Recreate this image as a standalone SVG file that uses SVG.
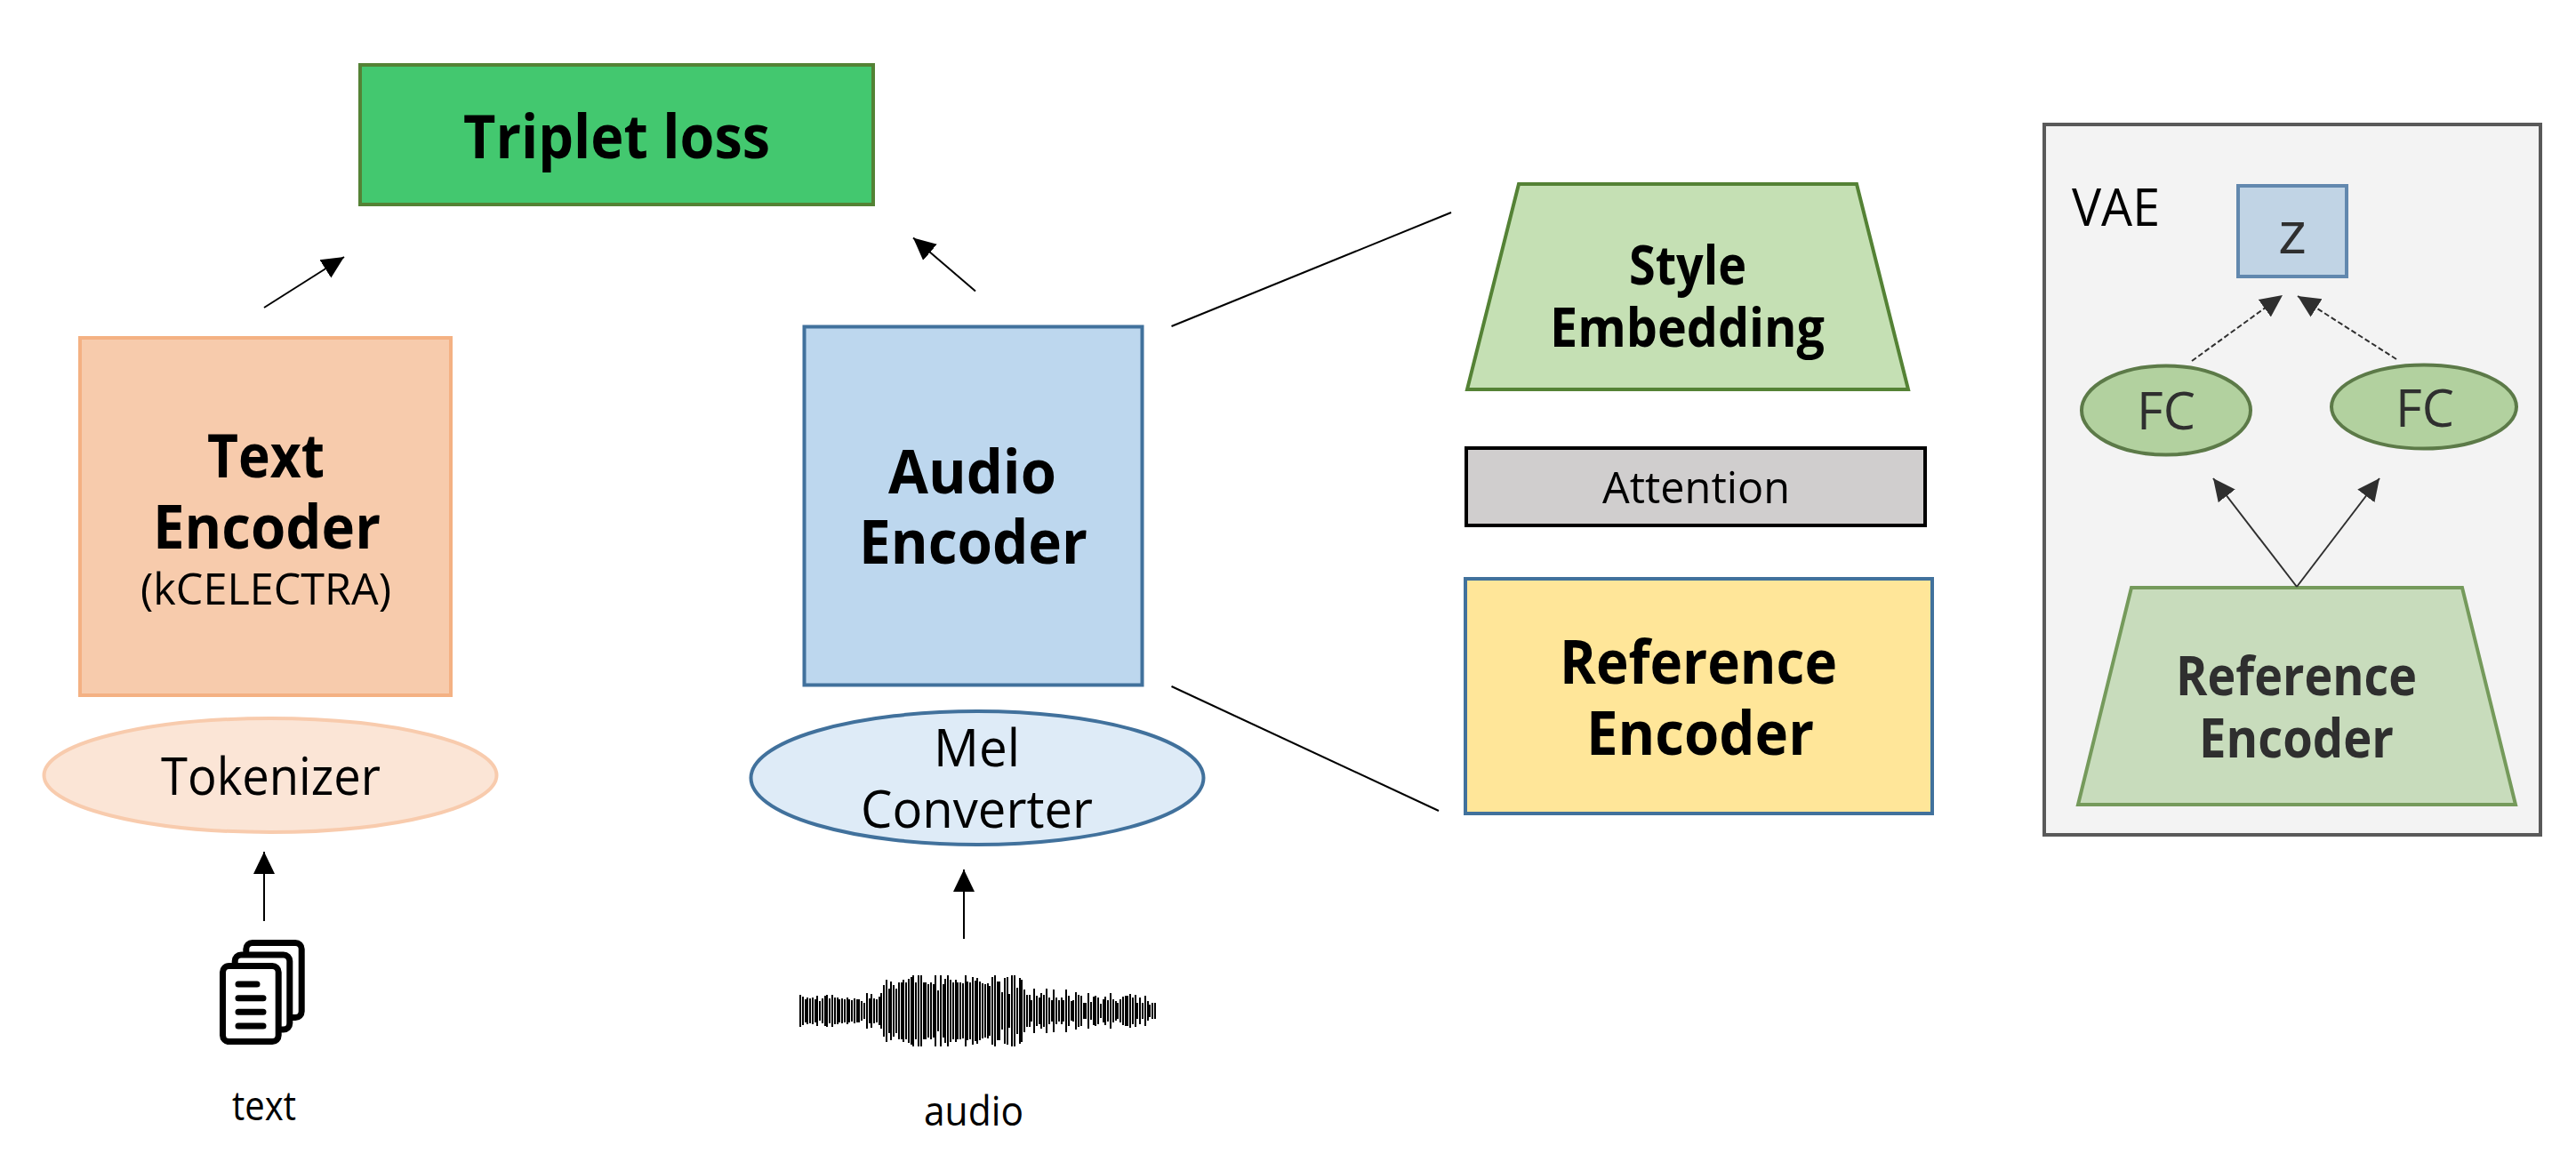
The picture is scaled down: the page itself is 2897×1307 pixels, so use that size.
<svg xmlns="http://www.w3.org/2000/svg" width="2897" height="1307" viewBox="0 0 2897 1307">
<style>
text{font-family:"Open Sans","Noto Sans","Liberation Sans",sans-serif;fill:#000}
.b{font-weight:700}
.d{fill:#2f2f2f}
.a{stroke:#000;stroke-width:2;fill:none}
.p{stroke:#2f2f2f;stroke-width:2;fill:none}
.pd{stroke:#2f2f2f;stroke-width:2;stroke-dasharray:6 3;fill:none}
.ic{fill:none;stroke:#000;stroke-width:7;stroke-linecap:round;stroke-linejoin:round}
</style>
<defs>
<marker id="ah" markerUnits="userSpaceOnUse" markerWidth="26" markerHeight="26" refX="25" refY="13" orient="auto"><path d="M0 1L25 13L0 25z" fill="#000"/></marker>
<marker id="ahp" markerUnits="userSpaceOnUse" markerWidth="26" markerHeight="26" refX="25" refY="13" orient="auto"><path d="M0 1L25 13L0 25z" fill="#2f2f2f"/></marker>
</defs>
<rect width="2897" height="1307" fill="#fff"/>
<g id="triplet-loss"><rect x="405" y="73" width="577" height="157" fill="#43C86F" stroke="#548235" stroke-width="4"/><text class="b" x="521" y="178" font-size="68" textLength="345" lengthAdjust="spacingAndGlyphs">Triplet loss</text></g>
<g id="text-encoder"><rect x="90" y="380" width="417" height="402" fill="#F7CBAC" stroke="#F4B183" stroke-width="4"/><text class="b" x="233" y="537" font-size="68" textLength="132" lengthAdjust="spacingAndGlyphs">Text</text><text class="b" x="172" y="617" font-size="68" textLength="256" lengthAdjust="spacingAndGlyphs">Encoder</text><text x="158" y="680" font-size="50" textLength="282" lengthAdjust="spacingAndGlyphs">(kCELECTRA)</text></g>
<g id="tokenizer"><ellipse cx="304" cy="872" rx="254.500" ry="64" fill="#FBE5D6" stroke="#F8CBAD" stroke-width="4"/><text x="181" y="894" font-size="58" textLength="247" lengthAdjust="spacingAndGlyphs">Tokenizer</text></g>
<g id="audio-encoder"><rect x="904.500" y="367.500" width="380" height="403" fill="#BDD7EE" stroke="#41719C" stroke-width="4"/><text class="b" x="999" y="555" font-size="68" textLength="189" lengthAdjust="spacingAndGlyphs">Audio</text><text class="b" x="966" y="634" font-size="68" textLength="257" lengthAdjust="spacingAndGlyphs">Encoder</text></g>
<g id="mel-converter"><ellipse cx="1099" cy="875" rx="254.500" ry="75" fill="#DEEBF7" stroke="#41719C" stroke-width="4"/><text x="1050" y="862" font-size="58" textLength="97" lengthAdjust="spacingAndGlyphs">Mel</text><text x="968" y="931" font-size="58" textLength="261" lengthAdjust="spacingAndGlyphs">Converter</text></g>
<g id="style-embedding"><path d="M1708 207H2088L2146 438H1650z" fill="#C5E0B4" stroke="#548235" stroke-width="4"/><text class="b" x="1832" y="320" font-size="60" textLength="132" lengthAdjust="spacingAndGlyphs">Style</text><text class="b" x="1743" y="390" font-size="60" textLength="309" lengthAdjust="spacingAndGlyphs">Embedding</text></g>
<g id="attention"><rect x="1649" y="504" width="516" height="87" fill="#D0CECE" stroke="#000" stroke-width="4"/><text x="1802" y="566" font-size="50" textLength="211" lengthAdjust="spacingAndGlyphs">Attention</text></g>
<g id="reference-encoder"><rect x="1648" y="651" width="525" height="264" fill="#FFE699" stroke="#41719C" stroke-width="4"/><text class="b" x="1754" y="769" font-size="68" textLength="312" lengthAdjust="spacingAndGlyphs">Reference</text><text class="b" x="1784" y="849" font-size="68" textLength="256" lengthAdjust="spacingAndGlyphs">Encoder</text></g>
<g id="vae-panel"><rect x="2299" y="140" width="558" height="799" fill="#F3F3F3" stroke="#595959" stroke-width="4"/><text x="2330" y="254" font-size="58" textLength="99" lengthAdjust="spacingAndGlyphs">VAE</text></g>
<g id="z"><rect x="2517" y="209" width="122" height="102" fill="#C1D4E5" stroke="#6288AE" stroke-width="4"/><text class="d" x="2562" y="285" font-size="66" textLength="32" lengthAdjust="spacingAndGlyphs">z</text></g>
<g id="fc-left"><ellipse cx="2436" cy="461.500" rx="95" ry="50" fill="#B2D19F" stroke="#5C7A48" stroke-width="4"/><text class="d" x="2403" y="483" font-size="58" textLength="66" lengthAdjust="spacingAndGlyphs">FC</text></g>
<g id="fc-right"><ellipse cx="2726" cy="457.500" rx="104" ry="47" fill="#B2D19F" stroke="#5C7A48" stroke-width="4"/><text class="d" x="2694" y="480" font-size="58" textLength="66" lengthAdjust="spacingAndGlyphs">FC</text></g>
<g id="vae-reference-encoder"><path d="M2397 661H2769L2829 905H2337z" fill="#C8DCBC" stroke="#759A5B" stroke-width="4"/><text class="b d" x="2447" y="782" font-size="60" textLength="271" lengthAdjust="spacingAndGlyphs">Reference</text><text class="b d" x="2473" y="852" font-size="60" textLength="219" lengthAdjust="spacingAndGlyphs">Encoder</text></g>
<g id="text-input"><rect x="250.500" y="1086.500" width="62.700" height="85" rx="7" fill="#fff" stroke="#000" stroke-width="7"/><path class="ic" d="M264.200 1083V1081a7 7 0 0 1 7-7H318.800a7 7 0 0 1 7 7V1151a7 7 0 0 1-7 7H316"/><path class="ic" d="M276.800 1070V1067.500a7 7 0 0 1 7-7H332.200a7 7 0 0 1 7 7V1137.500a7 7 0 0 1-7 7H329"/><path class="ic" d="M268 1107H289M268 1122.700H296M268 1138.300H296M268 1154H296"/><text x="261" y="1260" font-size="46" textLength="72" lengthAdjust="spacingAndGlyphs">text</text></g>
<g id="audio-input"><path fill="none" stroke="#000" stroke-width="2" shape-rendering="crispEdges" d="M900 1136.500m0-18v36m2.770-18m0-16v32m2.770-16m0-13v26m2.770-13m0-15v30m2.770-15m0-14v28m2.770-14m0-15v30m2.770-15m0-13v26m2.770-13m0-17v34m2.770-17m0-11v22m2.770-11m0-14v28m2.770-14m0-17v34m2.770-17m0-18v36m2.770-18m0-14v28m2.770-14m0-18v36m2.770-18m0-15v30m2.770-15m0-15v30m2.770-15m0-13v26m2.770-13m0-14v28m2.770-14m0-13v26m2.770-13m0-15v30m2.770-15m0-13v26m2.770-13m0-12v24m2.770-12m0-14v28m2.770-14m0-13v26m2.770-13m0-13v26m2.770-13m0-11v22m2.770-11m0-9v18m2.770-9m0-20v40m2.770-20m0-14v28m2.770-14m0-19v38m2.770-19m0-14v28m2.770-14m0-13v26m2.770-13m0-16v32m2.770-16m0-20v40m2.770-20m0-29v58m2.770-29m0-35v70m2.770-35m0-25v50m2.770-25m0-33v66m2.770-33m0-29v58m2.770-29m0-25v50m2.770-25m0-32v64m2.770-32m0-32v64m2.770-32m0-35v70m2.770-35m0-32v64m2.770-32m0-36v72m2.770-36m0-38v76m2.770-38m0-40v80m2.770-40m0-32v64m2.770-32m0-40v80m2.770-40m0-40v80m2.770-40m0-32v64m2.770-32m0-32v64m2.770-32m0-30v60m2.770-30m0-32v64m2.770-32m0-30v60m2.770-30m0-40v80m2.770-40m0-23v46m2.770-23m0-40v80m2.770-40m0-30v60m2.770-30m0-36v72m2.770-36m0-40v80m2.770-40m0-35v70m2.770-35m0-32v64m2.770-32m0-35v70m2.770-35m0-32v64m2.770-32m0-32v64m2.770-32m0-31v62m2.770-31m0-40v80m2.770-40m0-33v66m2.770-33m0-32v64m2.770-32m0-38v76m2.770-38m0-34v68m2.770-34m0-37v74m2.770-37m0-33v66m2.770-33m0-31v62m2.770-31m0-30v60m2.770-30m0-31v62m2.770-31m0-28v56m2.770-28m0-38v76m2.770-38m0-40v80m2.770-40m0-33v66m2.770-33m0-33v66m2.770-33m0-21v42m2.770-21m0-37v74m2.770-37m0-38v76m2.770-38m0-19v38m2.770-19m0-40v80m2.770-40m0-40v80m2.770-40m0-26v52m2.770-26m0-37v74m2.770-37m0-35v70m2.770-35m0-24v48m2.770-24m0-18v36m2.770-18m0-18v36m2.770-18m0-12v24m2.770-12m0-25v50m2.770-25m0-17v34m2.770-17m0-15v30m2.770-15m0-20v40m2.770-20m0-18v36m2.770-18m0-25v50m2.770-25m0-15v30m2.770-15m0-12v24m2.770-12m0-24v48m2.770-24m0-15v30m2.770-15m0-12v24m2.770-12m0-15v30m2.770-15m0-12v24m2.770-12m0-24v48m2.770-24m0-17v34m2.770-17m0-11v22m2.770-11m0-12v24m2.770-12m0-21v42m2.770-21m0-18v36m2.770-18m0-17v34m2.770-17m0-9v18m2.770-9m0-9v18m2.770-9m0-20v40m2.770-20m0-10v20m2.770-10m0-16v32m2.770-16m0-17v34m2.770-17m0-15v30m2.770-15m0-8v16m2.770-8m0-13v26m2.770-13m0-16v32m2.770-16m0-12v24m2.770-12m0-20v40m2.770-20m0-13v26m2.770-13m0-11v22m2.770-11m0-9v18m2.770-9m0-13v26m2.770-13m0-16v32m2.770-16m0-17v34m2.770-17m0-17v34m2.770-17m0-19v38m2.770-19m0-15v30m2.770-15m0-18v36m2.770-18m0-9v18m2.770-9m0-15v30m2.770-15m0-9v18m2.770-9m0-17v34m2.770-17m0-11v22m2.770-11m0-7v14m2.770-7m0-9v18m2.770-9m0-9v18"/><text x="1039" y="1266" font-size="46" textLength="112" lengthAdjust="spacingAndGlyphs">audio</text></g>
<g id="connectors">
<line class="a" x1="297" y1="346" x2="387" y2="289" marker-end="url(#ah)"/>
<line class="a" x1="1097" y1="327.500" x2="1027" y2="267.500" marker-end="url(#ah)"/>
<line class="a" x1="297" y1="1036" x2="297" y2="958" marker-end="url(#ah)"/>
<line class="a" x1="1084" y1="1056" x2="1084" y2="978" marker-end="url(#ah)"/>
<line class="a" x1="1317.500" y1="367" x2="1632" y2="239"/>
<line class="a" x1="1317.500" y1="772" x2="1618" y2="912"/>
<line class="pd" x1="2465" y1="406" x2="2567" y2="332" marker-end="url(#ahp)"/>
<line class="pd" x1="2695" y1="404" x2="2584" y2="333" marker-end="url(#ahp)"/>
<line class="p" x1="2583" y1="660" x2="2489" y2="538" marker-end="url(#ahp)"/>
<line class="p" x1="2583" y1="660" x2="2676" y2="538" marker-end="url(#ahp)"/>
</g>
</svg>
